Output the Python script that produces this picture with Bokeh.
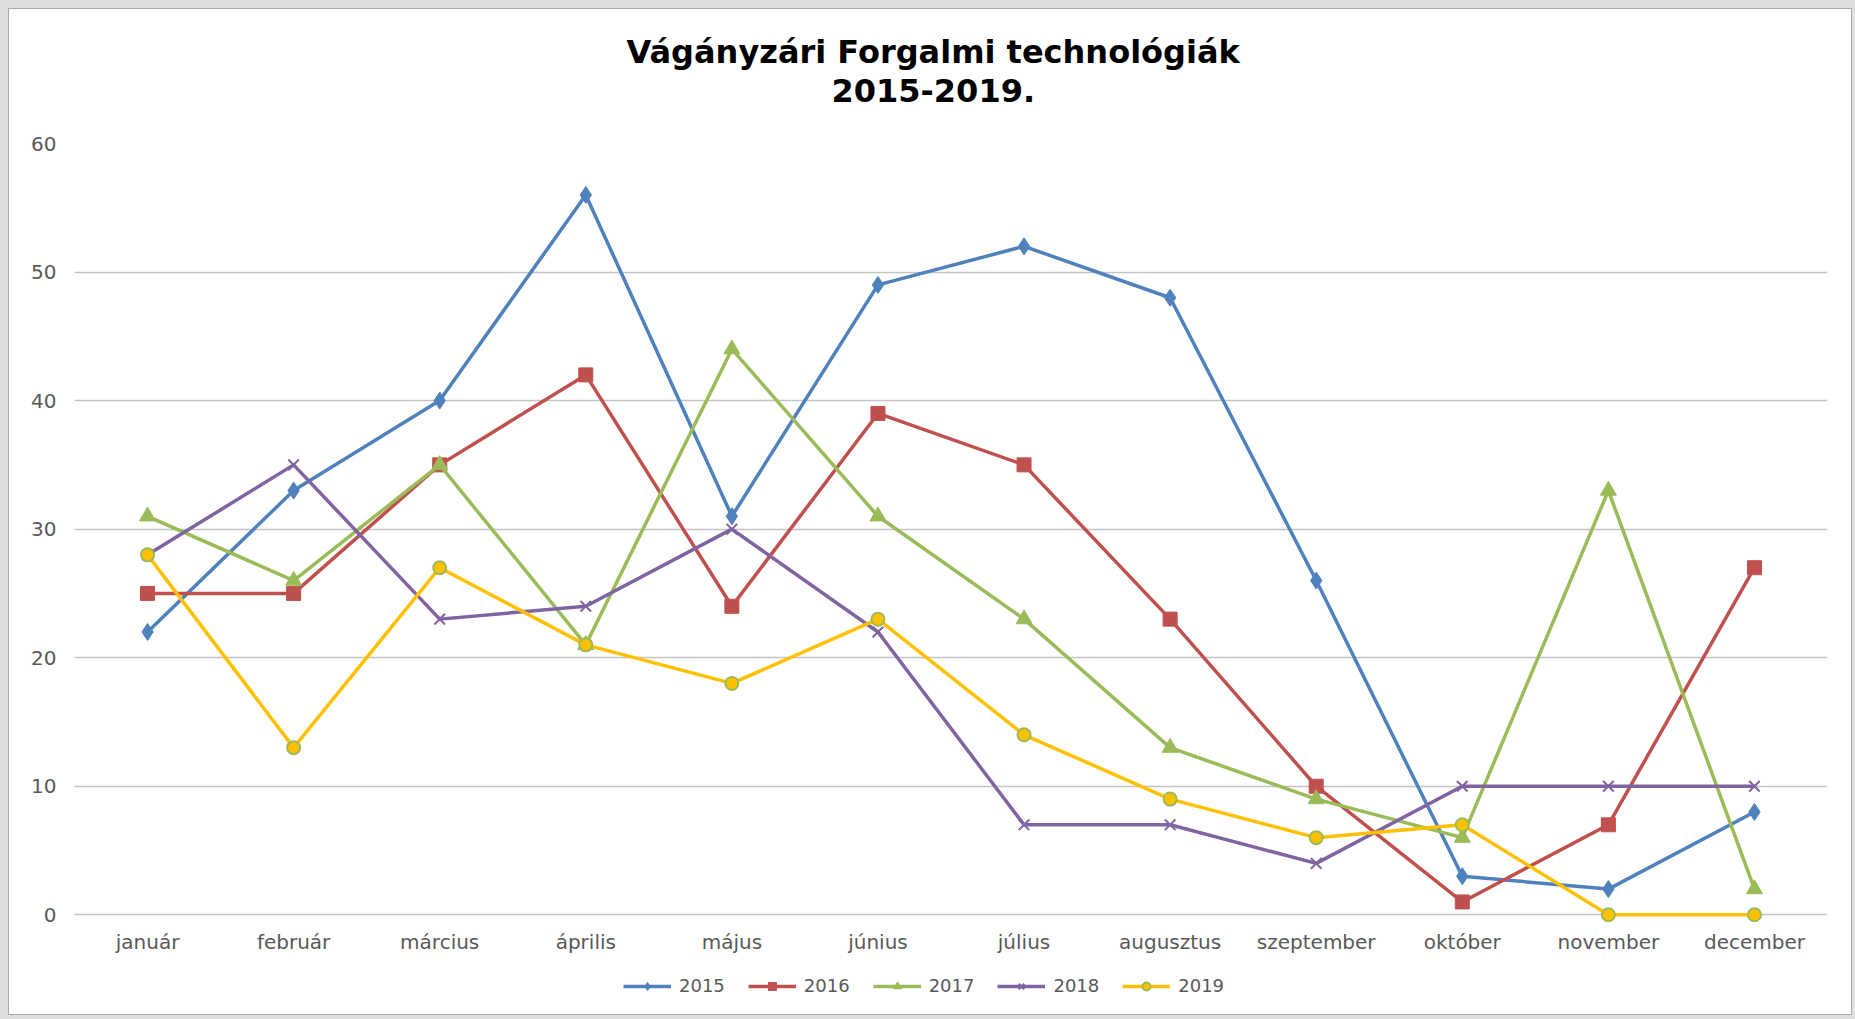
from bokeh.plotting import figure
from bokeh.layouts import column
from bokeh.models import Range1d, FactorRange, Title, FixedTicker
from bokeh.embed import file_html
from bokeh.resources import INLINE

months = ["január", "február", "március", "április", "május", "június",
          "július", "augusztus", "szeptember", "október", "november", "december"]
y2015 = [22, 33, 40, 56, 31, 49, 52, 48, 26, 3, 2, 8]
y2016 = [25, 25, 35, 42, 24, 39, 35, 23, 10, 1, 7, 27]
y2017 = [31, 26, 35, 21, 44, 31, 23, 13, 9, 6, 33, 2]
y2018 = [28, 35, 23, 24, 30, 22, 7, 7, 4, 10, 10, 10]
y2019 = [28, 13, 27, 21, 18, 23, 14, 9, 6, 7, 0, 0]
series_names = ["2015", "2016", "2017", "2018", "2019"]
y_ticks = [0, 10, 20, 30, 40, 50, 60]
title_line1 = "Vágányzári Forgalmi technológiák"
title_line2 = "2015-2019."

TFONT = "DejaVu Sans"
FONT = "DejaVu Sans"

p = figure(frame_width=1753, frame_height=779, x_range=FactorRange(*months, range_padding=0),
           y_range=Range1d(-0.6, 60), output_backend="svg", toolbar_location=None,
           min_border_left=65, min_border_right=24, min_border_top=134, min_border_bottom=40,
           background_fill_color="white", border_fill_color="white", outline_line_color=None)
p.title = None

# spacer + two-line title (nearest to the plot is added first)
p.add_layout(Title(text=" ", text_font_size="1px", standoff=36), "above")
p.add_layout(Title(text=title_line2, align="left", offset=757, text_font=TFONT,
                   text_font_size="32px", text_font_style="bold", text_color="#000000",
                   standoff=6), "above")
p.add_layout(Title(text=title_line1, align="left", offset=552, text_font=TFONT,
                   text_font_size="32px", text_font_style="bold", text_color="#000000",
                   standoff=6), "above")

# axes
p.yaxis.ticker = FixedTicker(ticks=y_ticks)
p.yaxis.axis_line_color = None
p.yaxis.major_tick_line_color = None
p.yaxis.minor_tick_line_color = None
p.yaxis.major_label_standoff = 12
p.yaxis.major_label_text_font = FONT
p.yaxis.major_label_text_font_size = "20px"
p.yaxis.major_label_text_color = "#595959"

p.xaxis.axis_line_color = None
p.xaxis.major_tick_line_color = None
p.xaxis.minor_tick_line_color = None
p.xaxis.major_tick_out = 0
p.xaxis.major_label_standoff = 7
p.xaxis.major_label_text_font = FONT
p.xaxis.major_label_text_font_size = "20px"
p.xaxis.major_label_text_color = "#595959"

p.xgrid.grid_line_color = None
p.ygrid.ticker = FixedTicker(ticks=y_ticks)
p.ygrid.grid_line_color = "#c4c4c4"
p.ygrid.grid_line_width = 1.5

styles = [
    dict(data=y2015, color="#4F81BD", marker="diamond", size=17, fill="#4F81BD", mline="#4F81BD", mw=1),
    dict(data=y2016, color="#C0504D", marker="square", size=14, fill="#C0504D", mline="#C0504D", mw=1),
    dict(data=y2017, color="#9BBB59", marker="triangle", size=16, fill="#9BBB59", mline="#9BBB59", mw=1),
    dict(data=y2018, color="#8064A2", marker="x", size=15, fill="#8064A2", mline="#8064A2", mw=2),
    dict(data=y2019, color="#FFC000", marker="circle", size=13, fill="#FFC000", mline="#9BBB59", mw=2),
]

for name, s in zip(series_names, styles):
    p.line(months, s["data"], line_color=s["color"], line_width=3.5)
    p.scatter(months, s["data"], marker=s["marker"], size=s["size"], fill_color=s["fill"],
              line_color=s["mline"], line_width=s["mw"])

# legend strip under the chart: the same series, scrolled out of its view,
# so that only their legend entries show
p_leg = figure(width=1842, height=52, x_range=FactorRange(*months), y_range=Range1d(1000, 1001),
               output_backend="svg", toolbar_location=None, min_border=0,
               x_axis_location=None, y_axis_location=None, outline_line_color=None,
               background_fill_color="white", border_fill_color="white")
p_leg.grid.visible = False
for name, s in zip(series_names, styles):
    p_leg.line(months, s["data"], line_color=s["color"], line_width=3.5, legend_label=name)
    p_leg.scatter(months, s["data"], marker=s["marker"], size=s["size"] - 3, fill_color=s["fill"],
                  line_color=s["mline"], line_width=s["mw"], legend_label=name)

leg = p_leg.legend[0]
leg.orientation = "horizontal"
leg.location = (549, 18)
leg.border_line_color = None
leg.background_fill_alpha = 0
leg.label_text_font = FONT
leg.label_text_font_size = "18px"
leg.label_text_color = "#595959"
leg.glyph_width = 48
leg.glyph_height = 20
leg.label_height = 20
leg.label_standoff = 8
leg.spacing = 23
leg.padding = 4
leg.margin = 0

layout = column(p, p_leg, spacing=0)
layout.styles = {"margin-left": "9px", "margin-top": "9px",
                 "box-shadow": "0 0 0 1px #a9a9a9, 0 0 0 9px #dedede"}

open("out.html", "w").write(file_html(layout, INLINE))
